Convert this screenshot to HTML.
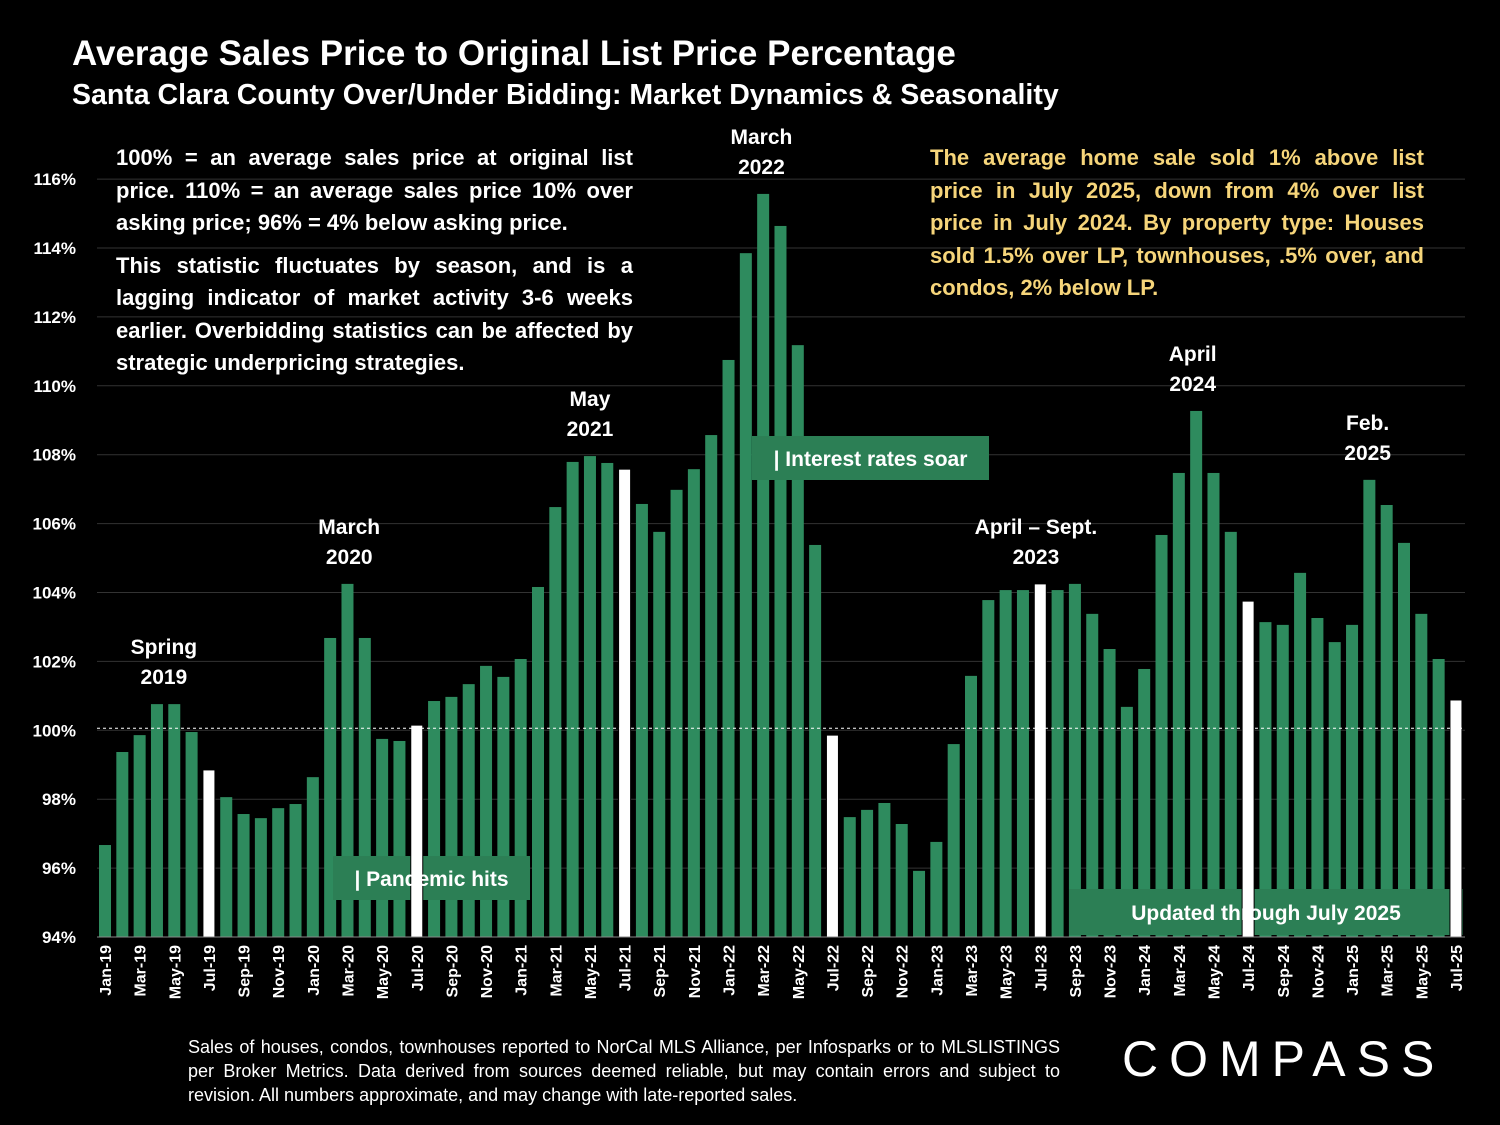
<!DOCTYPE html>
<html><head><meta charset="utf-8"><style>
body{margin:0;background:#000;width:1500px;height:1125px;overflow:hidden;font-family:"Liberation Sans",sans-serif;color:#fff;position:relative}
.abs{position:absolute}
.t1{left:72px;top:34px;font-size:35px;font-weight:bold}
.t2{left:72px;top:79px;font-size:28.5px;font-weight:bold}
.note{font-size:22px;font-weight:bold;line-height:32.5px;text-align:justify}
.foot{left:188px;top:1035px;width:872px;font-size:18px;line-height:24px;text-align:justify}
.logo{left:1122px;top:1030px;font-size:50px;letter-spacing:11px;font-weight:normal}
</style></head><body>
<div class="abs t1">Average Sales Price to Original List Price Percentage</div>
<div class="abs t2">Santa Clara County Over/Under Bidding: Market Dynamics &amp; Seasonality</div>
<svg class="abs" style="left:0;top:0" width="1500" height="1125" id="chart"></svg>
<div class="abs note" style="left:116px;top:142px;width:517px">100% = an average sales price at original list price. 110% = an average sales price 10% over asking price; 96% = 4% below asking price.<div style="height:10px"></div>This statistic fluctuates by season, and is a lagging indicator of market activity 3-6 weeks earlier. Overbidding statistics can be affected by strategic underpricing strategies.</div>
<div class="abs note" style="left:930px;top:142px;width:494px;color:#f6d57a">The average home sale sold 1% above list price in July 2025, down from 4% over list price in July 2024. By property type: Houses sold 1.5% over LP, townhouses, .5% over, and condos, 2% below LP.</div>
<div class="abs foot">Sales of houses, condos, townhouses reported to NorCal MLS Alliance, per Infosparks or to MLSLISTINGS per Broker Metrics. Data derived from sources deemed reliable, but may contain errors and subject to revision. All numbers approximate, and may change with late-reported sales.</div>
<div class="abs logo">COMPASS</div>
<script>
const months=["Jan","Feb","Mar","Apr","May","Jun","Jul","Aug","Sep","Oct","Nov","Dec"];
const values=[96.67,99.37,99.86,100.76,100.76,99.95,98.85,98.06,97.57,97.45,97.74,97.86,
98.64,102.68,104.25,102.68,99.75,99.69,100.15,100.85,100.97,101.34,101.87,101.55,
102.07,104.16,106.48,107.79,107.96,107.76,107.58,106.57,105.76,106.98,107.58,108.57,
110.75,113.85,115.57,114.64,111.18,105.38,99.86,97.48,97.69,97.89,97.28,95.92,
96.76,99.6,101.58,103.78,104.07,104.07,104.25,104.07,104.25,103.38,102.36,100.68,
101.78,105.67,107.47,109.27,107.47,105.76,103.75,103.14,103.06,104.57,103.26,102.56,
103.06,107.27,106.54,105.44,103.38,102.07,100.88];
const yTicks=[94,96,98,100,102,104,106,108,110,112,114,116];
const annotations=[["Spring","2019",3.4,100.76],["March","2020",14.1,104.25],["May","2021",28,107.96],["March","2022",37.9,115.57],["April – Sept.","2023",53.75,104.25],["April","2024",62.8,109.27],["Feb.","2025",72.9,107.27]];
const svg=document.getElementById('chart');const NS="http://www.w3.org/2000/svg";
const y=v=>937-(v-94)*34.45;const x=i=>105+i*17.32;
function mk(t,a,txt){const e=document.createElementNS(NS,t);for(const k in a)e.setAttribute(k,a[k]);if(txt!==undefined)e.textContent=txt;svg.appendChild(e);return e;}
yTicks.forEach(v=>{
 const g=mk('line',{x1:97,x2:1465,y1:y(v),y2:y(v),stroke:'#333','stroke-width':1});
 
 
 const t=mk('text',{x:76,y:y(v)+6,'text-anchor':'end','font-size':17,'font-weight':'bold',fill:'#fff'},v+'%');
 
 
});
function drawBar(v,i){
 const jul=(i%12)===6;
 const r=mk('rect',{x:x(i)-6,y:y(v),width:12,height:937-y(v),fill:jul?'#fff':'#2e8b5e',stroke:jul?'#000':'none','stroke-width':1});
 
 
}
values.forEach((v,i)=>{ if(i%12!==6) drawBar(v,i); });
const boxes=[[333,856,197,44,'| Pandemic hits','pandemic-annotation'],[752,436,237,44,'| Interest rates soar','interest-rates-annotation'],[1069,889,394,46,'Updated through July 2025','updated-annotation']];
boxes.forEach(b=>{
 const r=mk('rect',{x:b[0],y:b[1],width:b[2],height:b[3],fill:'#2c7f55'});
 
 
});
values.forEach((v,i)=>{ if(i%12===6) drawBar(v,i); });
boxes.forEach(b=>{
 const t=mk('text',{x:b[0]+b[2]/2,y:b[1]+b[3]/2+8,'text-anchor':'middle','font-size':21,'font-weight':'bold',fill:'#fff'},b[4]);
 
 
});
values.forEach((v,i)=>{
 if(i%2===0){
  const lx=x(i)+6,ly=945;
  const t=mk('text',{x:lx,y:ly,transform:`rotate(-90 ${lx} ${ly})`,'text-anchor':'end','font-size':16,'font-weight':'bold',fill:'#fff'},months[i%12]+'-'+(19+Math.floor(i/12)));
  
  
 }
});
const d=mk('line',{x1:97,x2:1465,y1:y(100)-2,y2:y(100)-2,stroke:'#fff','stroke-dasharray':'3,3','stroke-width':1});


mk('line',{x1:97,x2:1465,y1:937,y2:937,stroke:'#888','stroke-width':1});
annotations.forEach(a=>{
 const cx=x(a[2]),top=y(a[3])-20;
 const t1=mk('text',{x:cx,y:top-30,'text-anchor':'middle','font-size':21,'font-weight':'bold',fill:'#fff'},a[0]);
 
 
 mk('text',{x:cx,y:top,'text-anchor':'middle','font-size':21,'font-weight':'bold',fill:'#fff'},a[1]);
});
</script>
</body></html>
